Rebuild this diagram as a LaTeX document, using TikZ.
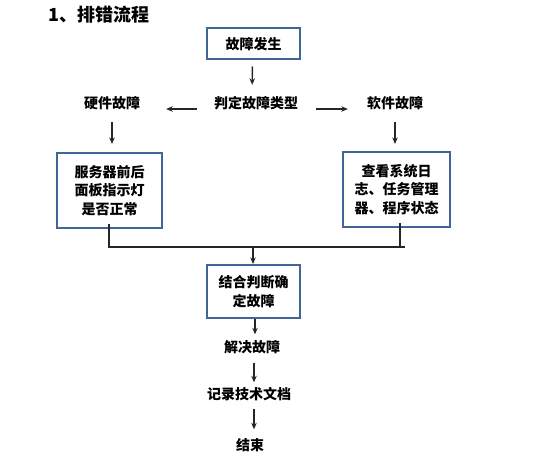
\documentclass[tikz,border=0pt]{standalone}
\usepackage{fontspec}
\newfontfamily\cjk{Noto Sans CJK SC}
\usetikzlibrary{arrows.meta}
\definecolor{boxblue}{RGB}{66,100,150}
\begin{document}
\begin{tikzpicture}[x=1pt,y=-1pt,
  cjkbase/.style={font=\cjk\bfseries\fontsize{14pt}{18.5pt}\selectfont, align=center},
  txt/.style={cjkbase, inner sep=0pt, text height=10.5pt, text depth=3.5pt},
  flowbox/.style={cjkbase, inner sep=2pt, draw=boxblue, line width=2pt, fill=white},
  arr/.style={draw=black!85, line width=1.4pt, -{Stealth[length=6.5pt,width=5.5pt]}},
  conn/.style={draw=black!85, line width=1.5pt}
]
\useasboundingbox (0,0) rectangle (548,470);
% title
\node[cjkbase, inner sep=0pt, font=\cjk\bfseries\fontsize{18pt}{20pt}\selectfont, anchor=west] (title) at (48,15) {1、排错流程};
% boxes and labels
\node[flowbox, minimum width=93pt, minimum height=31pt] (start) at (253.5,44) {故障发生};
\node[txt] (judge) at (256,105) {判定故障类型};
\node[txt] (hw) at (112,105) {硬件故障};
\node[txt] (sw) at (395,105) {软件故障};
\node[flowbox, minimum width=105pt, minimum height=75pt] (lbox) at (109.5,190.5) {服务器前后\\面板指示灯\\是否正常};
\node[flowbox, minimum width=107pt, minimum height=75pt] (rbox) at (396.5,189.5) {查看系统日\\志、任务管理\\器、程序状态};
\node[flowbox, minimum width=93pt, minimum height=53pt] (merge) at (253.5,291.5) {结合判断确\\定故障};
\node[txt] (solve) at (252,349) {解决故障};
\node[txt] (record) at (249,396) {记录技术文档};
\node[txt] (finish) at (250,447) {结束};
% connectors
\draw[arr, shorten <=6pt, shorten >=13pt] ([xshift=-1pt]start.south) -- ([xshift=-4pt]judge.north);
\draw[arr, shorten <=17pt, shorten >=26pt] ([yshift=-4pt]judge.west) -- ([yshift=-4pt]hw.east);
\draw[arr, shorten <=18pt, shorten >=19pt] ([yshift=-4pt]judge.east) -- ([yshift=-4pt]sw.west);
\draw[arr, shorten <=10pt, shorten >=8pt] (hw.south) -- (hw.south |- lbox.north);
\draw[arr, shorten <=10pt, shorten >=7pt] (sw.south) -- (sw.south |- rbox.north);
\coordinate (jl) at (109,247);
\coordinate (jr) at (405,247);
\coordinate (jc) at (253,247);
\draw[conn] ([yshift=5pt]lbox.south -| jl) -- (jl) -- (jr);
\draw[conn] ([xshift=3.5pt,yshift=5pt]rbox.south) |- (jr);
\draw[arr] (jc) -- (jc |- merge.north);
\draw[arr, shorten >=7.5pt] ([xshift=1.5pt]merge.south) -- ([xshift=1.5pt]merge.south |- solve.north);
\draw[arr, shorten <=6.5pt, shorten >=6.5pt] ([xshift=2pt]solve.south) -- ([xshift=2pt]solve.south |- record.north);
\draw[arr, shorten <=5.5pt, shorten >=10.5pt] ([xshift=5pt]record.south) -- ([xshift=5pt]record.south |- finish.north);
\end{tikzpicture}
\end{document}
